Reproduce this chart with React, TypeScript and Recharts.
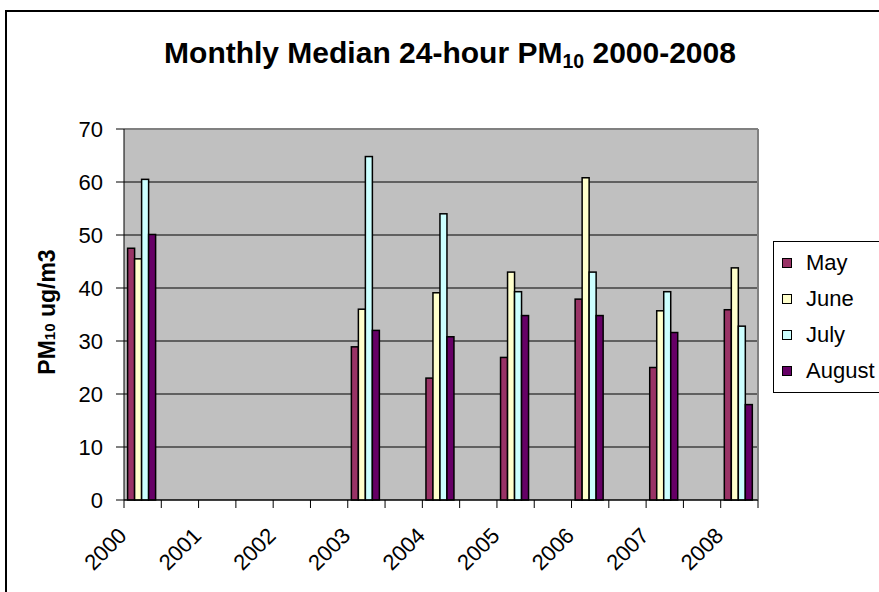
import {
  BarChart,
  Bar,
  XAxis,
  YAxis,
  CartesianGrid,
  Legend,
  ReferenceLine,
} from 'recharts';

const years = [2000, 2003, 2004, 2005, 2006, 2007, 2008];
const may = [47.5, 28.9, 23, 26.9, 37.9, 25, 35.9];
const june = [45.5, 36, 39.1, 43, 60.8, 35.7, 43.8];
const july = [60.5, 64.8, 54, 39.3, 43, 39.3, 32.8];
const august = [50.1, 32, 30.8, 34.8, 34.8, 31.6, 18];

const months = ['May', 'June', 'July', 'August'];
const axisYears = [2000, 2001, 2002, 2003, 2004, 2005, 2006, 2007, 2008];
const yTicks = [0, 10, 20, 30, 40, 50, 60, 70];

// summer season sits just after each year mark on the date axis
const data = years.map((year, i) => ({
  season: year + 0.24,
  may: may[i],
  june: june[i],
  july: july[i],
  august: august[i],
}));

const xTicks = axisYears.flatMap((y) => [y, y + 0.5]);

const FONT = '"Liberation Sans", Arial, sans-serif';

const YearTick = ({ x, y, payload }: any) => {
  if (!Number.isInteger(payload.value)) return <g />;
  const tx = x + 4;
  const ty = y + 27;
  return (
    <text
      x={tx}
      y={ty}
      textAnchor="end"
      transform={`rotate(-45, ${tx}, ${ty})`}
      fontSize={22}
      fontFamily={FONT}
      fill="#000"
    >
      {payload.value}
    </text>
  );
};

const YLabel = () => (
  <text
    x={55}
    y={312}
    transform="rotate(-90, 55, 312)"
    textAnchor="middle"
    fontSize={23}
    fontWeight="bold"
    fontFamily={FONT}
    fill="#000"
  >
    PM<tspan fontSize={15}>10</tspan> ug/m3
  </text>
);

const OutlinedBar = (props: any) => {
  const { x, y, width, height, fill } = props;
  if (!height || height <= 0) return <g />;
  return (
    <rect
      x={x}
      y={y}
      width={width}
      height={height}
      fill={fill}
      stroke="#000"
      strokeWidth={1.5}
    />
  );
};

const LegendBox = ({ payload }: any) => {
  const items = [...(payload || [])].sort(
    (a: any, b: any) => months.indexOf(a.value) - months.indexOf(b.value)
  );
  return (
    <div
      style={{
        border: '1.5px solid #000',
        background: '#fff',
        padding: '3px 0 3px 8px',
        fontFamily: FONT,
        fontSize: 22,
        width: 130,
      }}
    >
      {items.map((entry: any) => (
        <div key={entry.value} style={{ display: 'flex', alignItems: 'center', height: 36 }}>
          <span
            style={{
              width: 8,
              height: 8,
              border: '1px solid #000',
              background: entry.color,
              marginRight: 14,
            }}
          />
          <span style={{ color: '#000' }}>{entry.value}</span>
        </div>
      ))}
    </div>
  );
};

export default function App() {
  return (
    <div
      style={{
        position: 'absolute',
        left: 0,
        top: 0,
        width: 879,
        height: 592,
        overflow: 'hidden',
        background: '#fff',
      }}
    >
      <div
        style={{
          position: 'absolute',
          left: 5,
          top: 10,
          width: 900,
          height: 600,
          border: '2px solid #000',
        }}
      />
      <div
        style={{
          position: 'absolute',
          left: 0,
          top: 38,
          width: 900,
          textAlign: 'center',
          fontFamily: FONT,
          fontWeight: 'bold',
          fontSize: 30,
          lineHeight: 1,
          color: '#000',
        }}
      >
        Monthly Median 24-hour PM
        <span style={{ fontSize: '0.65em', position: 'relative', top: '0.25em' }}>10</span>{' '}
        2000-2008
      </div>
      <div style={{ position: 'absolute', left: 0, top: 0 }}>
        <BarChart
          width={879}
          height={592}
          data={data}
          margin={{ top: 129, right: 121, left: 0, bottom: 0 }}
          barGap={0}
          barSize={7}
        >
          <CartesianGrid
            vertical={false}
            stroke="#000"
            fill="#C0C0C0"
            fillOpacity={1}
          />
          <XAxis
            dataKey="season"
            type="number"
            domain={[2000, 2008.5]}
            ticks={xTicks}
            interval={0}
            height={92}
            tickSize={8}
            tickMargin={2}
            tick={<YearTick />}
            axisLine={{ stroke: '#000' }}
            tickLine={{ stroke: '#000' }}
          />
          <YAxis
            domain={[0, 70]}
            ticks={yTicks}
            interval={0}
            width={124}
            tickSize={8}
            tickMargin={13}
            tick={{ fill: '#000', fontSize: 22, fontFamily: FONT }}
            axisLine={{ stroke: '#000' }}
            tickLine={{ stroke: '#000' }}
            label={<YLabel />}
          />
          <ReferenceLine y={70} stroke="#808080" strokeWidth={2} />
          <ReferenceLine x={2008.5} stroke="#808080" strokeWidth={2} />
          <Legend
            layout="vertical"
            align="center"
            verticalAlign="middle"
            content={<LegendBox />}
            wrapperStyle={{ left: 773, top: 241, width: 130 }}
          />
          <Bar dataKey="may" name="May" fill="#993366" shape={<OutlinedBar />} isAnimationActive={false} />
          <Bar dataKey="june" name="June" fill="#FFFFCC" shape={<OutlinedBar />} isAnimationActive={false} />
          <Bar dataKey="july" name="July" fill="#CCFFFF" shape={<OutlinedBar />} isAnimationActive={false} />
          <Bar dataKey="august" name="August" fill="#660066" shape={<OutlinedBar />} isAnimationActive={false} />
        </BarChart>
      </div>
    </div>
  );
}
